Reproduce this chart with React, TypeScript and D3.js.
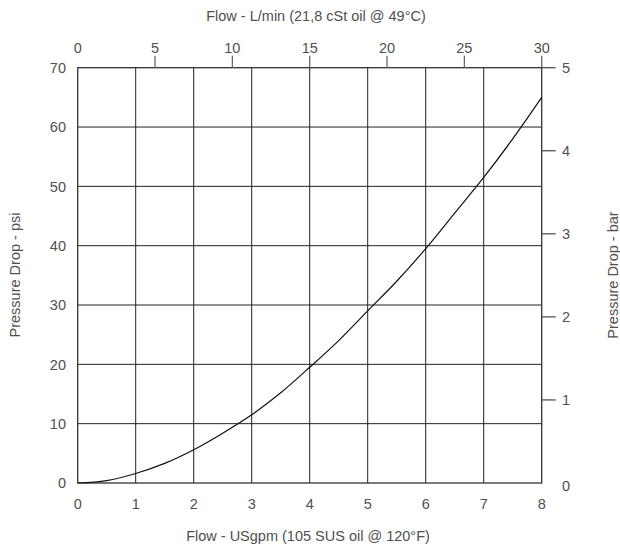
import React from "react";
import * as d3 from "d3";

const flowGpm = [0, 0.5, 1, 1.5, 2, 2.5, 3, 3.5, 4, 4.5, 5, 5.5, 6, 6.5, 7, 7.5, 8];
const dropPsi = [0, 0.4, 1.6, 3.3, 5.6, 8.4, 11.5, 15.2, 19.5, 24, 29, 34, 39.5, 45.5, 51.5, 58, 65];

const bottomTicks = [0, 1, 2, 3, 4, 5, 6, 7, 8];
const topTicks = [0, 5, 10, 15, 20, 25, 30];
const leftTicks = [0, 10, 20, 30, 40, 50, 60, 70];
const rightTicks = [0, 1, 2, 3, 4, 5];

const W = 620, H = 546;
const L = 77.7, R = 541.7, T = 67.7, B = 483;

export default function App() {
  const x = d3.scaleLinear().domain([0, 8]).range([L, R]);
  const xTop = d3.scaleLinear().domain([0, 30]).range([L, R]);
  const y = d3.scaleLinear().domain([0, 70]).range([B, T]);
  const yR = d3.scaleLinear().domain([0, 5]).range([B, T]);
  const line = d3
    .line<number>()
    .x((_, i) => x(flowGpm[i]))
    .y((d) => y(d))
    .curve(d3.curveMonotoneX);
  const font = "'Liberation Sans', Arial, sans-serif";
  const txt = "#505050";
  const tf = 14.5;
  const lf = 14.5;
  return (
    <svg width={W} height={H} style={{ position: "absolute", left: 0, top: 0 }} fontFamily={font}>
      <rect x={0} y={0} width={W} height={H} fill="#fff" />
      {bottomTicks.slice(1, -1).map((t) => (
        <line key={"vx" + t} x1={x(t)} x2={x(t)} y1={T} y2={B} stroke="#222" strokeWidth={1} />
      ))}
      {leftTicks.slice(1, -1).map((t) => (
        <line key={"hy" + t} x1={L} x2={R} y1={y(t)} y2={y(t)} stroke="#222" strokeWidth={1} />
      ))}
      <rect x={L} y={T} width={R - L} height={B - T} fill="none" stroke="#333" strokeWidth={1.3} />
      {topTicks.slice(1).map((t) => (
        <line key={"tt" + t} x1={xTop(t)} x2={xTop(t)} y1={T} y2={T - 12} stroke="#666" strokeWidth={1.3} />
      ))}
      {rightTicks.slice(1).map((t) => (
        <line key={"rt" + t} x1={R} x2={R + 14} y1={yR(t)} y2={yR(t)} stroke="#444" strokeWidth={1.2} />
      ))}
      <path d={line(dropPsi) || ""} fill="none" stroke="#111" strokeWidth={1.2} />
      {bottomTicks.map((t) => (
        <text key={"bl" + t} x={x(t)} y={509} textAnchor="middle" fontSize={tf} fill={txt}>{t}</text>
      ))}
      {topTicks.map((t) => (
        <text key={"tl" + t} x={xTop(t)} y={52.5} textAnchor="middle" fontSize={tf} fill={txt}>{t}</text>
      ))}
      {leftTicks.map((t) => (
        <text key={"ll" + t} x={66} y={y(t) + 5.3} textAnchor="end" fontSize={tf} fill={txt}>{t}</text>
      ))}
      {rightTicks.map((t) => (
        <text key={"rl" + t} x={562} y={yR(t) + 5.3 + (t === 0 ? 3 : 0)} textAnchor="start" fontSize={tf} fill={txt}>{t}</text>
      ))}
      <text x={316} y={20.5} textAnchor="middle" fontSize={lf} fill={txt}>Flow - L/min (21,8 cSt oil @ 49°C)</text>
      <text x={308} y={541} textAnchor="middle" fontSize={lf} fill={txt}>Flow - USgpm (105 SUS oil @ 120°F)</text>
      <text transform={`translate(20,275) rotate(-90)`} textAnchor="middle" fontSize={lf} fill={txt}>Pressure Drop - psi</text>
      <text transform={`translate(618,275) rotate(-90)`} textAnchor="middle" fontSize={lf} fill={txt}>Pressure Drop - bar</text>
    </svg>
  );
}
